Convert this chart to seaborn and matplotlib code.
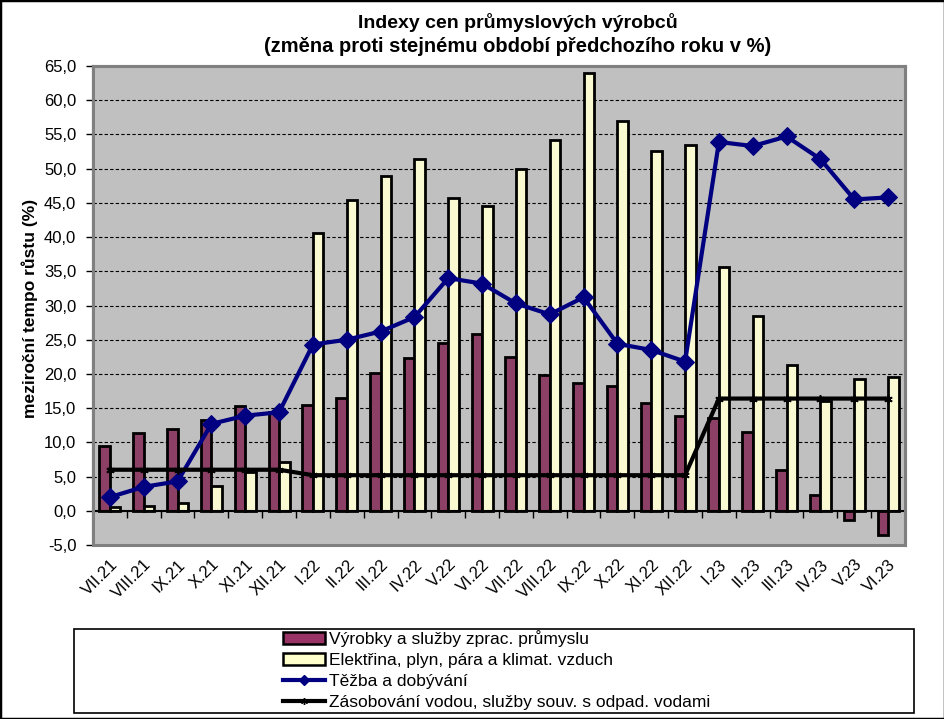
import numpy as np
import pandas as pd
import matplotlib
matplotlib.use("Agg")
import matplotlib.pyplot as plt
import seaborn as sns
from matplotlib.patches import Patch, Rectangle
from matplotlib.lines import Line2D
from matplotlib.ticker import FuncFormatter, MultipleLocator, FixedLocator

# Data
mesice = ["VII.21", "VIII.21", "IX.21", "X.21", "XI.21", "XII.21",
          "I.22", "II.22", "III.22", "IV.22", "V.22", "VI.22",
          "VII.22", "VIII.22", "IX.22", "X.22", "XI.22", "XII.22",
          "I.23", "II.23", "III.23", "IV.23", "V.23", "VI.23"]
vyrobky = [9.4, 11.3, 11.9, 13.3, 15.3, 14.5, 15.4, 16.5, 20.2, 22.3, 24.5, 25.8,
           22.5, 19.9, 18.7, 18.3, 15.7, 13.9, 13.5, 11.5, 6.0, 2.3, -1.4, -3.6]
elektrina = [0.5, 0.7, 1.1, 3.6, 5.6, 7.1, 40.6, 45.4, 48.9, 51.4, 45.7, 44.5,
             49.9, 54.2, 64.0, 56.9, 52.6, 53.4, 35.6, 28.4, 21.3, 16.1, 19.2, 19.5]
tezba = [2.0, 3.5, 4.3, 12.7, 13.9, 14.4, 24.3, 25.0, 26.2, 28.3, 34.0, 33.2,
         30.3, 28.7, 31.2, 24.4, 23.5, 21.8, 53.9, 53.3, 54.7, 51.4, 45.5, 45.8]
voda = [6.0, 6.0, 6.0, 6.0, 6.0, 6.0, 5.2, 5.2, 5.2, 5.2, 5.2, 5.2,
        5.2, 5.2, 5.2, 5.2, 5.2, 5.2, 16.4, 16.4, 16.4, 16.4, 16.4, 16.4]

nazvy = ["Výrobky a služby zprac. průmyslu",
         "Elektřina, plyn, pára a klimat. vzduch",
         "Těžba a dobývání",
         "Zásobování vodou, služby souv. s odpad. vodami"]

plt.rcParams['font.family'] = ['Liberation Sans', 'DejaVu Sans']

df = pd.DataFrame({
    'mesic': mesice * 2,
    'rada': [nazvy[0]] * len(mesice) + [nazvy[1]] * len(mesice),
    'hodnota': vyrobky + elektrina,
})
pozice = np.arange(len(mesice))

fig = plt.figure(figsize=(9.45, 7.19), dpi=100)
ax = fig.add_axes([93 / 945, 1 - 545 / 719, (905 - 93) / 945, (545 - 66) / 719])
ax.set_facecolor('#C0C0C0')

sns.barplot(data=df, x='mesic', y='hodnota', hue='rada',
            palette=['#993366', '#FFFFCC'], edgecolor='black', linewidth=2,
            width=0.62, legend=False, ax=ax, zorder=2)
sns.lineplot(x=pozice, y=tezba, color='#000080', linewidth=3, marker='D',
             markersize=9, markeredgecolor='#000080', ax=ax, zorder=3)
sns.lineplot(x=pozice, y=voda, color='black', linewidth=3, marker=(6, 2, 0),
             markersize=6, markeredgewidth=1.2, markeredgecolor='black', ax=ax, zorder=4)

ax.set_xlim(-0.5, len(mesice) - 0.5)
ax.set_ylim(-5, 65)
ax.yaxis.set_major_locator(MultipleLocator(5))
ax.yaxis.set_major_formatter(FuncFormatter(lambda v, p: f"{v:.1f}".replace('.', ',')))
ax.grid(axis='y', color='black', linestyle=(0, (3, 2)), linewidth=0.8)
ax.set_axisbelow(True)
ax.set_xlabel('')
ax.set_ylabel('')

# x axis crosses at zero, labels sit below the plot area
ax.spines['bottom'].set_position(('data', 0))
ax.spines['bottom'].set_color('black')
ax.spines['bottom'].set_linewidth(1.5)
ax.spines['left'].set_color('black')
ax.spines['left'].set_linewidth(1.5)
for s in ['top', 'right']:
    ax.spines[s].set_color('#808080')
    ax.spines[s].set_linewidth(2.2)
ax.add_patch(Rectangle((0, 0), 1, 1, transform=ax.transAxes, fill=False,
                       edgecolor='#808080', linewidth=2.2, zorder=5, clip_on=False))

ax.set_xticks(pozice)
ax.set_xticklabels(mesice, rotation=45, ha='right', va='top', rotation_mode='anchor')
ax.xaxis.set_minor_locator(FixedLocator(np.arange(len(mesice) + 1) - 0.5))
ax.tick_params(axis='x', which='major', length=0, pad=33, labelsize=12)
ax.tick_params(axis='x', which='minor', length=5, width=1, direction='out', color='black')
ax.tick_params(axis='y', length=5, width=1, direction='out', labelsize=12, pad=7)

fig.text(0.548, 1 - 22 / 719, "Indexy cen průmyslových výrobců",
         ha='center', va='center', fontsize=14, fontweight='bold')
fig.text(0.548, 1 - 46 / 719, "(změna proti stejnému období předchozího roku v %)",
         ha='center', va='center', fontsize=14.5, fontweight='bold')
fig.text(30 / 945, 1 - 308 / 719, "meziroční tempo růstu (%)", rotation=90,
         ha='center', va='center', fontsize=12.5, fontweight='bold')

handles = [
    Patch(facecolor='#993366', edgecolor='black', linewidth=1.8),
    Patch(facecolor='#FFFFCC', edgecolor='black', linewidth=1.8),
    Line2D([], [], color='#000080', linewidth=3, marker='D', markersize=5),
    Line2D([], [], color='black', linewidth=3, marker=(6, 2, 0), markersize=5),
]
fig.legend(handles, nazvy, loc='upper left', bbox_to_anchor=(283 / 945, 1 - 630 / 719),
           frameon=False, fontsize=12.5, handlelength=2.4, handleheight=0.65,
           handletextpad=0.25, labelspacing=0.34, borderaxespad=0, borderpad=0)
fig.add_artist(Rectangle((74 / 945, 1 - 713 / 719), (914 - 74) / 945, (713 - 629) / 719,
                         transform=fig.transFigure, fill=False, edgecolor='black', linewidth=1.2))
fig.add_artist(Rectangle((0, 0), 1, 1, transform=fig.transFigure, fill=False,
                         edgecolor='black', linewidth=2.5))

fig.savefig('out.png', dpi=100)
